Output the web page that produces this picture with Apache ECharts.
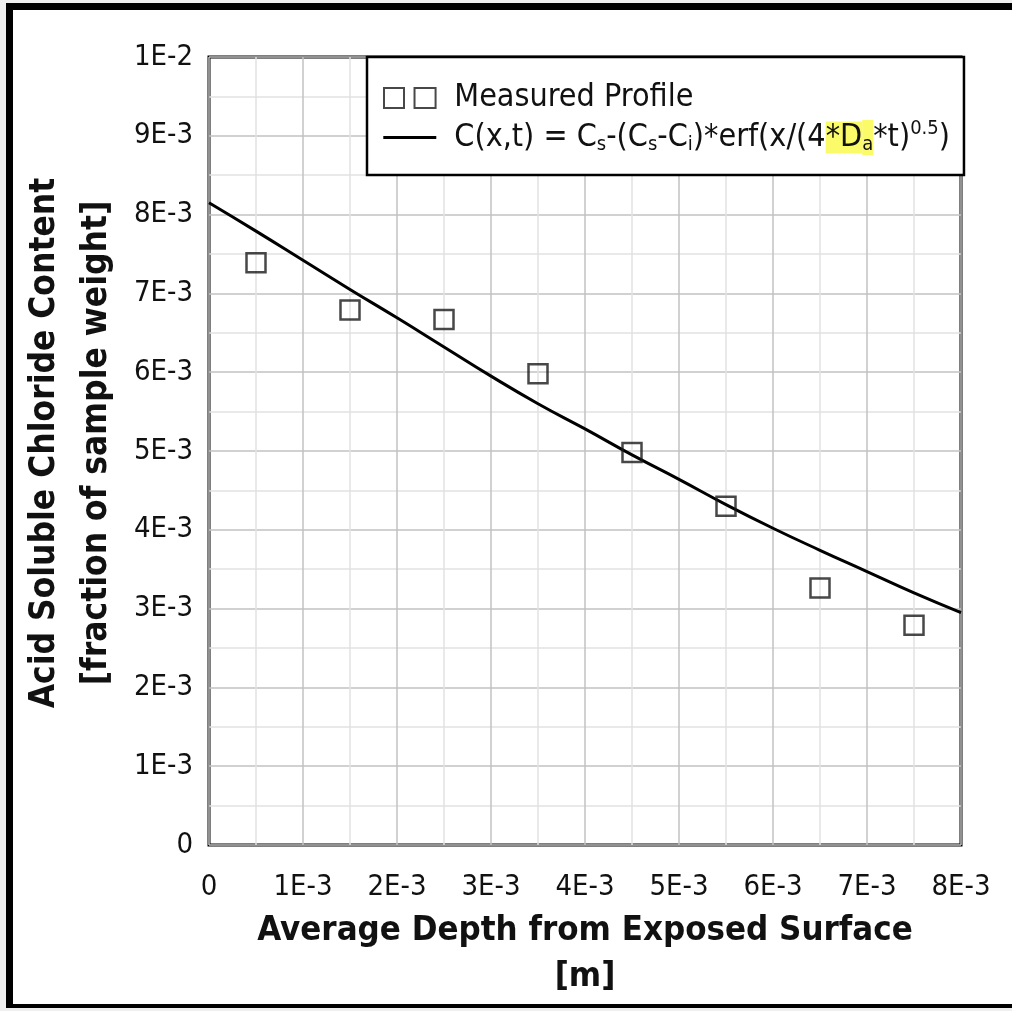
<!DOCTYPE html>
<html>
<head>
<meta charset="utf-8">
<script src="https://cdn.jsdelivr.net/npm/echarts@6/dist/echarts.min.js"></script>
<style>
    html, body { margin: 0; padding: 0; overflow: hidden; background: #efefef; }
    .frame { position: absolute; left: 6px; top: 3px; width: 1100px; height: 994px;
             border-left: 7px solid #000; border-top: 7px solid #000; border-bottom: 4px solid #000;
             background: #fff; }
    #chart { position: absolute; left: 0; top: 0; width: 1012px; height: 1011px; }
</style>
</head>
<body>
<div class="frame"></div>
<div id="chart"></div>
<script>
// measured profile (depth in m, chloride as fraction of sample weight)
var depthMeasured = [0.0005, 0.0015, 0.0025, 0.0035, 0.0045, 0.0055, 0.0065, 0.0075];
var chlorideMeasured = [0.00739, 0.00679, 0.00667, 0.00598, 0.00498, 0.00430, 0.00326, 0.00279];

// fitted curve, every 0.5E-3 m
var depthFit = [0, 0.0005, 0.001, 0.0015, 0.002, 0.0025, 0.003, 0.0035, 0.004,
    0.0045, 0.005, 0.0055, 0.006, 0.0065, 0.007, 0.0075, 0.008];
var chlorideFit = [0.00815, 0.00779, 0.00742, 0.00705, 0.00669, 0.00632, 0.00595, 0.00560, 0.00528,
    0.00495, 0.00464, 0.00432, 0.00402, 0.00374, 0.00347, 0.00320, 0.00295];

var font = "'DejaVu Sans Condensed', 'DejaVu Sans', sans-serif";

function sci(v) {
    if (v === 0) return '0';
    var e = Math.floor(Math.log10(v) + 1e-9);
    var m = Math.round(v / Math.pow(10, e));
    if (m === 10) { m = 1; e++; }
    return m + 'E' + e;
}

function pairs(xs, ys) {
    var out = [];
    for (var i = 0; i < xs.length; i++) out.push([xs[i], ys[i]]);
    return out;
}

var myChart = echarts.init(document.getElementById('chart'));

var option = {
    backgroundColor: 'transparent',
    animation: false,
    grid: {
        left: 209, top: 57, width: 752, height: 788,
        show: true, borderColor: '#000', borderWidth: 3, backgroundColor: 'transparent'
    },
    legend: {
        orient: 'vertical',
        left: 367, top: 57,
        padding: [25, 14, 20, 16],
        itemGap: 5,
        itemWidth: 53, itemHeight: 20,
        symbolKeepAspect: true,
        backgroundColor: '#fff',
        borderColor: '#000', borderWidth: 2.5,
        data: [
            { name: 'Measured Profile', icon: 'path://M1,1H20V20H1ZM30,1H50V20H30Z' },
            { name: 'fit', icon: 'path://M0,0H53V3H0Z' }
        ],
        formatter: function (name) {
            if (name === 'fit') {
                return '{t|C(x,t) = C}{sub|s}{t|-(C}{sub|s}{t|-C}{sub|i}{t|)*erf(x/(4}{hl|*D}{hls|a}{t|*t)}{sup|0.5}{t|)}';
            }
            return '{t|' + name + '}';
        },
        textStyle: {
            padding: [0, 0, 0, 13],
            rich: {
                t: { fontFamily: font, fontSize: 32, color: '#111', lineHeight: 37 },
                sub: { fontFamily: font, fontSize: 20, color: '#111', padding: [15, 0, 0, 0] },
                hl: { fontFamily: font, fontSize: 32, color: '#111', lineHeight: 37, backgroundColor: '#fbfb6a' },
                hls: { fontFamily: font, fontSize: 20, color: '#111', padding: [15, 0, 0, 0], backgroundColor: '#fbfb6a' },
                sup: { fontFamily: font, fontSize: 20, color: '#111', padding: [0, 0, 17, 0] }
            }
        }
    },
    xAxis: {
        type: 'value',
        min: 0, max: 0.008, interval: 0.001,
        name: 'Average Depth from Exposed Surface\n[m]',
        nameLocation: 'middle',
        nameGap: 63,
        nameTextStyle: { fontFamily: font, fontSize: 34.5, fontWeight: 'bold', color: '#111', lineHeight: 46 },
        axisLine: { show: false },
        axisTick: { show: false },
        axisLabel: { formatter: sci, fontFamily: font, fontSize: 29, color: '#111', margin: 28 },
        splitLine: { show: true, lineStyle: { color: '#c2c2c2', width: 1.5 } },
        minorTick: { show: false, splitNumber: 2 },
        minorSplitLine: { show: true, lineStyle: { color: '#e2e2e2', width: 1.5 } }
    },
    yAxis: {
        type: 'value',
        min: 0, max: 0.01, interval: 0.001,
        name: 'Acid Soluble Chloride Content\n[fraction of sample weight]',
        nameLocation: 'middle',
        nameGap: 82,
        nameTextStyle: { fontFamily: font, fontSize: 35, fontWeight: 'bold', color: '#111', lineHeight: 52, padding: [0, 0, 0, 16] },
        axisLine: { show: false },
        axisTick: { show: false },
        axisLabel: { formatter: sci, fontFamily: font, fontSize: 29, color: '#111', margin: 16 },
        splitLine: { show: true, lineStyle: { color: '#c2c2c2', width: 1.5 } },
        minorTick: { show: false, splitNumber: 2 },
        minorSplitLine: { show: true, lineStyle: { color: '#e2e2e2', width: 1.5 } }
    },
    series: [
        {
            name: 'Measured Profile',
            type: 'scatter',
            symbol: 'rect',
            symbolSize: 19,
            data: pairs(depthMeasured, chlorideMeasured),
            itemStyle: { color: 'rgba(255,255,255,0)', borderColor: '#1a1a1a', borderWidth: 2.5 },
            z: 3
        },
        {
            name: 'fit',
            type: 'line',
            smooth: true,
            symbol: 'none',
            data: pairs(depthFit, chlorideFit),
            lineStyle: { color: '#000', width: 3 },
            itemStyle: { color: '#000' },
            z: 2
        }
    ]
};

myChart.setOption(option);
</script>
</body>
</html>
